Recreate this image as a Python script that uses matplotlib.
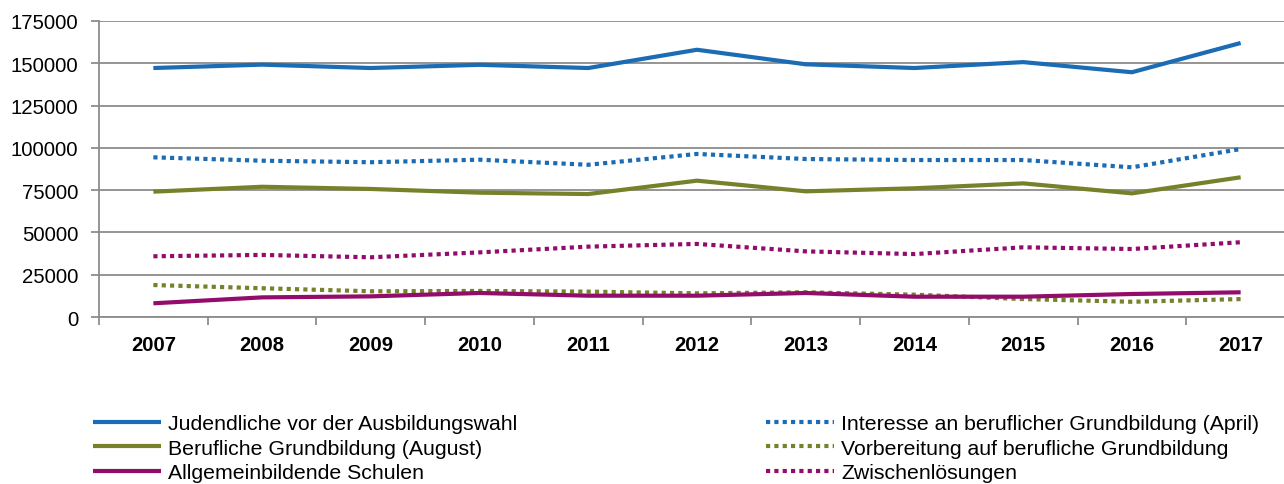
import numpy as np
import matplotlib.pyplot as plt

plt.rcParams['font.family'] = ['Liberation Sans', 'DejaVu Sans']

years = ['2007', '2008', '2009', '2010', '2011', '2012', '2013', '2014', '2015', '2016', '2017']
jugendliche = [147200, 149200, 147200, 149100, 147200, 158000, 149400, 147200, 150700, 144700, 162000]
interesse = [94400, 92400, 91500, 93000, 90000, 96400, 93400, 92800, 92800, 88500, 99300]
berufliche = [74100, 77000, 75700, 73500, 72700, 80600, 74300, 76100, 79000, 73100, 82600]
zwischen = [35900, 36700, 35300, 38200, 41600, 43200, 38800, 37200, 41200, 40200, 44200]
vorbereitung = [18900, 17000, 15200, 15400, 15000, 14000, 14600, 13200, 10600, 9000, 10600]
allgemein = [8100, 11600, 12200, 14200, 12600, 12600, 14200, 12000, 12000, 13600, 14600]

blue = '#1b6cb4'
olive = '#77812a'
purple = '#930c6c'

fig = plt.figure(figsize=(12.84, 4.85), dpi=100)
ax = fig.add_axes([99/1284, 167/485, 1196/1284, 296/485])

x = np.arange(len(years))
lw = 3.0
dot = (0, (1, 1))
l1, = ax.plot(x, jugendliche, color=blue, lw=lw, solid_capstyle='butt')
l2, = ax.plot(x, interesse, color=blue, lw=lw, ls=dot)
l3, = ax.plot(x, berufliche, color=olive, lw=lw, solid_capstyle='butt')
l4, = ax.plot(x, vorbereitung, color=olive, lw=lw, ls=dot)
l5, = ax.plot(x, allgemein, color=purple, lw=lw, solid_capstyle='butt')
l6, = ax.plot(x, zwischen, color=purple, lw=lw, ls=dot)

ax.set_xlim(-0.5, len(years) - 0.5)
ax.set_ylim(0, 175000)
ax.set_yticks(np.arange(0, 175001, 25000))
ax.set_yticklabels([str(v) for v in range(0, 175001, 25000)], fontsize=14.7)
ax.yaxis.grid(True, color='#8c8c8c', lw=1.3)
ax.set_axisbelow(True)

ax.set_xticks(x)
ax.set_xticklabels(years, fontsize=14.6, fontweight='bold')
ax.set_xticks(np.arange(-0.5, len(years), 1), minor=True)
ax.tick_params(axis='x', which='major', length=0, pad=13)
ax.tick_params(axis='x', which='minor', length=6, width=1.3, color='#8c8c8c')
ax.tick_params(axis='y', length=6, width=1.3, color='#8c8c8c', pad=9)

for s in ['top', 'right']:
    ax.spines[s].set_visible(False)
for s in ['left', 'bottom']:
    ax.spines[s].set_color('#8c8c8c')
    ax.spines[s].set_linewidth(1.3)

leg_kw = dict(frameon=False, fontsize=15.3, handlelength=3.2, handletextpad=0.33,
              labelspacing=0.27, borderaxespad=0, borderpad=0)
fig.legend([l1, l3, l5],
           ['Judendliche vor der Ausbildungswahl', 'Berufliche Grundbildung (August)', 'Allgemeinbildende Schulen'],
           loc='upper left', bbox_to_anchor=(93/1284, 1 - 415/485), **leg_kw)
fig.legend([l2, l4, l6],
           ['Interesse an beruflicher Grundbildung (April)', 'Vorbereitung auf berufliche Grundbildung', 'Zwischenlösungen'],
           loc='upper left', bbox_to_anchor=(766/1284, 1 - 415/485), **leg_kw)

fig.savefig('out.png', dpi=100)
